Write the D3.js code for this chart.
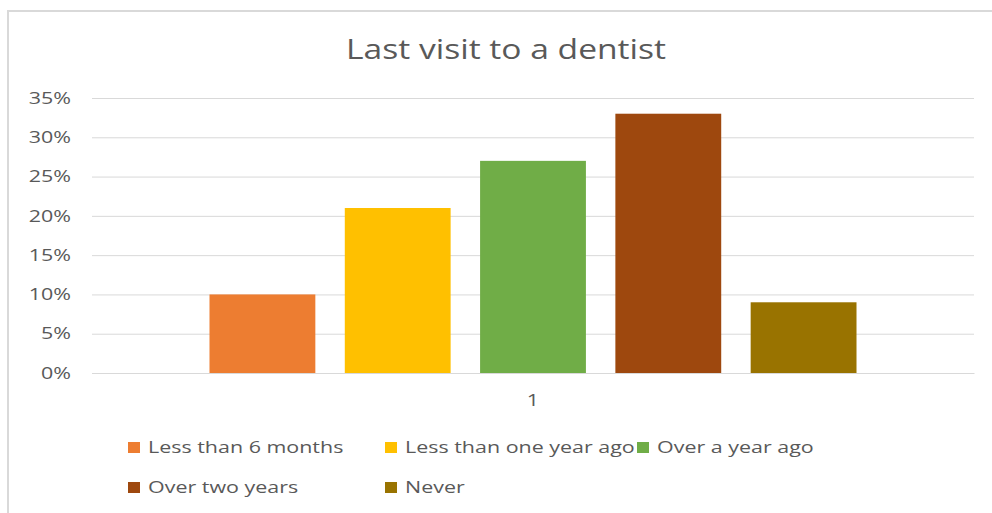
<!DOCTYPE html>
<html><head><meta charset="utf-8">
<script src="https://cdn.jsdelivr.net/npm/d3@7"></script>
<style>html,body{margin:0;padding:0;background:#fff;}svg{display:block;}</style>
</head><body><svg id="c" width="992" height="513"></svg>
<script>
const categories = ["1"];
const seriesNames = ["Less than 6 months","Less than one year ago","Over a year ago","Over two years","Never"];
const seriesValues = [0.10, 0.21, 0.27, 0.33, 0.09];
const seriesColors = ["#ED7D31","#FFC000","#70AD47","#9E480E","#997300"];
const yTicks = [0,0.05,0.10,0.15,0.20,0.25,0.30,0.35];
const title = "Last visit to a dentist";

const svg = d3.select("#c");
const font = "'Open Sans', sans-serif";
const txt = "#595959";
const sx = 1.3;   // horizontal stretch of small text
const tsx = 1.2;  // horizontal stretch of title

// chart border (cropped on right/bottom)
svg.append("rect").attr("x",8).attr("y",11).attr("width",1100).attr("height",600)
  .attr("fill","#fff").attr("stroke","#d9d9d9").attr("stroke-width",2);

svg.append("g").attr("transform",`translate(506,59) scale(${tsx},1)`)
  .append("text").attr("text-anchor","middle")
  .attr("font-family",font).attr("font-size",28).attr("fill",txt).text(title);

const plot = {left:92, right:974, top:98, bottom:373};
const y = d3.scaleLinear().domain([0,0.35]).range([plot.bottom, plot.top]);
const x0 = d3.scaleBand().domain(categories).range([plot.left, plot.right]).paddingInner(0).paddingOuter(0.1816);
const x1 = d3.scaleBand().domain(seriesNames).range([0, x0.bandwidth()]).paddingInner(0.2177).paddingOuter(0);

const yAxis = d3.axisLeft(y).tickValues(yTicks).tickFormat(d3.format(".0%"))
  .tickSize(-(plot.right-plot.left)).tickPadding(21);
const gy = svg.append("g").attr("transform",`translate(${plot.left},0)`).call(yAxis);
gy.select(".domain").remove();
gy.selectAll(".tick line").attr("stroke","#d9d9d9").attr("stroke-width",1);
gy.selectAll(".tick text").attr("font-family",font).attr("font-size",16.5).attr("fill",txt)
  .attr("x",-21/sx).attr("transform",`scale(${sx},1)`);

const g = svg.append("g");
categories.forEach(cat => {
  g.selectAll("rect.bar").data(seriesValues).enter().append("rect")
    .attr("class","bar")
    .attr("x",(d,i)=>x0(cat)+x1(seriesNames[i]))
    .attr("width",x1.bandwidth())
    .attr("y",d=>y(d))
    .attr("height",d=>y(0)-y(d))
    .attr("fill",(d,i)=>seriesColors[i]);
});

const xAxis = d3.axisBottom(x0).tickSize(0).tickPadding(21);
const gx = svg.append("g").attr("transform",`translate(0,${plot.bottom})`).call(xAxis);
gx.select(".domain").attr("stroke","#d9d9d9");
gx.selectAll(".tick text").attr("font-family",font).attr("font-size",16.5).attr("fill",txt)
  .attr("transform",`scale(${sx},1)`);

// legend
const legendPos = [[128,447],[385,447],[637,447],[128,487],[385,487]];
const lg = svg.append("g");
seriesNames.forEach((n,i)=>{
  const [lx,ly] = legendPos[i];
  lg.append("rect").attr("x",lx).attr("y",ly-5).attr("width",12).attr("height",11).attr("fill",seriesColors[i]);
  lg.append("g").attr("transform",`translate(${lx+20},${ly+6}) scale(${sx},1)`)
    .append("text").attr("font-family",font).attr("font-size",16.5)
    .attr("fill",txt).text(n);
});
</script></body></html>
